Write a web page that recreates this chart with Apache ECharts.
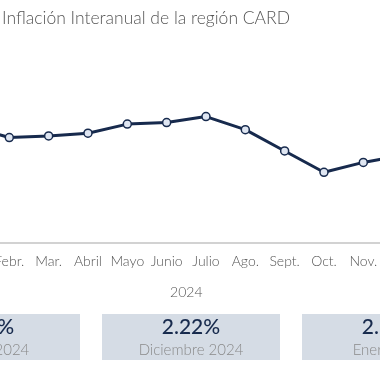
<!DOCTYPE html>
<html>
<head>
<meta charset="utf-8">
<script src="https://cdn.jsdelivr.net/npm/echarts@6/dist/echarts.min.js"></script>
<style>
html,body{margin:0;padding:0;width:380px;height:380px;overflow:hidden;background:#fff;}
#c{position:absolute;left:-100px;top:0;width:580px;height:380px;}
</style>
</head>
<body>
<div id="c"></div>
<script>
var titleText = 'Inflación Interanual de la región CARD';
var categories = ['Ene.', 'Febr.', 'Mar.', 'Abril', 'Mayo', 'Junio', 'Julio', 'Ago.', 'Sept.', 'Oct.', 'Nov.', 'Dic.'];
var inflation = [2.95, 2.67, 2.71, 2.78, 3.01, 3.05, 3.20, 2.87, 2.33, 1.79, 2.04, 2.22];
var yearLabel = '2024';
var boxValues = ['2.9%', '2.22%', '2.10%'];
var boxLabels = ['Enero 2024', 'Diciembre 2024', 'Enero 2025'];

var FONT = 'Lato, "Open Sans", sans-serif';
var NAVY = '#172a4d';
var boxX = [2, 202, 402];
var graphics = [];
for (var i = 0; i < boxValues.length; i++) {
  graphics.push({type: 'rect', left: boxX[i], top: 314, shape: {width: 178, height: 46}, style: {fill: '#d5dce5'}});
  graphics.push({type: 'text', x: boxX[i] + 89, y: 327, style: {text: boxValues[i], fill: NAVY, font: '500 21px ' + FONT, textAlign: 'center', textVerticalAlign: 'middle'}});
  graphics.push({type: 'text', x: boxX[i] + 89, y: 350, style: {text: boxLabels[i], fill: '#8a8a8a', font: '300 15px ' + FONT, textAlign: 'center', textVerticalAlign: 'middle'}});
}

var chart = echarts.init(document.getElementById('c'), null, {renderer: 'canvas'});
chart.setOption({
  animation: false,
  title: {text: titleText, left: 102, top: 9, padding: 0, textStyle: {fontFamily: FONT, fontSize: 17.5, fontWeight: 300, color: '#555'}},
  grid: {left: 50.3, width: 472, top: 45.5, bottom: 137},
  xAxis: {
    type: 'category', data: categories, boundaryGap: true,
    name: yearLabel, nameLocation: 'middle', nameGap: 42,
    nameTextStyle: {fontFamily: FONT, fontSize: 14, fontWeight: 300, color: '#555'},
    axisLine: {lineStyle: {color: '#c4c4c4', width: 1.5}},
    axisTick: {show: false},
    axisLabel: {fontFamily: FONT, fontSize: 14, fontWeight: 300, color: '#555', margin: 11, interval: 0}
  },
  yAxis: {type: 'value', min: 0, max: 5, show: false, splitLine: {show: false}},
  series: [{
    type: 'line', data: inflation,
    lineStyle: {color: NAVY, width: 3},
    symbol: 'circle', symbolSize: 8,
    itemStyle: {color: '#dfe6f2', borderColor: NAVY, borderWidth: 1.5}
  }],
  graphic: graphics
});
</script>
</body>
</html>
